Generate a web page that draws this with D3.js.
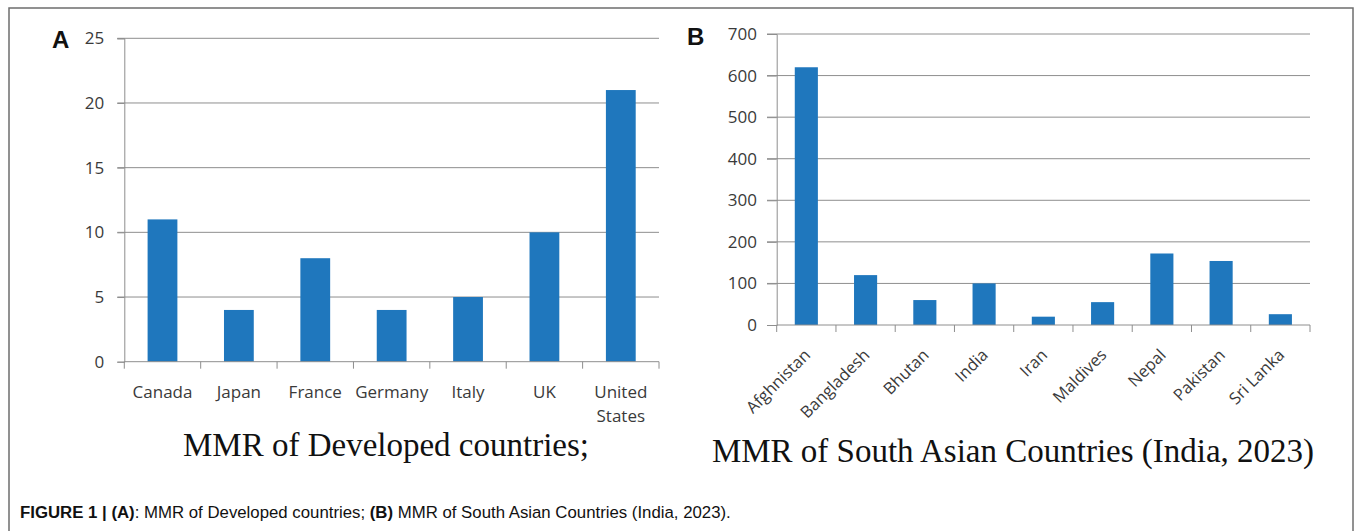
<!DOCTYPE html>
<html>
<head>
<meta charset="utf-8">
<script src="https://cdn.jsdelivr.net/npm/d3@7/dist/d3.min.js"></script>
<style>
  html, body { margin: 0; padding: 0; background: #fff; }
  svg { display: block; }
</style>
</head>
<body>
<svg id="fig" width="1355" height="531"></svg>
<script>
// Panel A: maternal mortality ratio, developed countries
const devCountries = ["Canada", "Japan", "France", "Germany", "Italy", "UK", "United States"];
const devMMR = [11, 4, 8, 4, 5, 10, 21];
const devTicks = [0, 5, 10, 15, 20, 25];

// Panel B: maternal mortality ratio, South Asian countries
const saCountries = ["Afghnistan", "Bangladesh", "Bhutan", "India", "Iran", "Maldives", "Nepal", "Pakistan", "Sri Lanka"];
const saMMR = [620, 120, 60, 100, 20, 55, 172, 154, 26];
const saTicks = [0, 100, 200, 300, 400, 500, 600, 700];

const titleA = "MMR of Developed countries;";
const titleB = "MMR of South Asian Countries (India, 2023)";

const BAR = "#1f77bd";
const GRID = "#8e8e8e";
const LABEL = "#3a3a3a";
const SANS = "'Open Sans', Lato, sans-serif";

const svg = d3.select("#fig");

// outer frame of the figure
svg.append("rect")
  .attr("x", 9).attr("y", 8).attr("width", 1344).attr("height", 560)
  .attr("fill", "none").attr("stroke", "#6e6e6e").attr("stroke-width", 1.5);

function panel(cfg) {
  const g = svg.append("g");
  const x = d3.scaleBand().domain(cfg.cats).range([cfg.x0, cfg.x1])
    .paddingInner(0.61).paddingOuter(0.305);
  const y = d3.scaleLinear().domain([0, cfg.ymax]).range([cfg.yb, cfg.yt]);

  // horizontal gridlines with the left tick stubs
  g.append("g").selectAll("line").data(cfg.ticks.filter(t => t > 0)).join("line")
    .attr("x1", cfg.x0 - cfg.stub).attr("x2", cfg.x1)
    .attr("y1", d => y(d)).attr("y2", d => y(d))
    .attr("stroke", GRID).attr("stroke-width", 1);

  // value axis
  const yAxis = g.append("g").attr("transform", `translate(${cfg.x0},0)`)
    .call(d3.axisLeft(y).tickValues(cfg.ticks).tickSize(cfg.stub).tickPadding(cfg.gap));
  yAxis.select(".domain").attr("stroke", GRID);
  yAxis.selectAll(".tick line").attr("stroke", GRID);
  yAxis.selectAll(".tick text").attr("fill", LABEL)
    .style("font-family", SANS).style("font-size", cfg.tickFont + "px");

  // bars
  g.append("g").selectAll("rect").data(cfg.vals).join("rect")
    .attr("x", (d, i) => x(cfg.cats[i]))
    .attr("width", x.bandwidth())
    .attr("y", d => y(d))
    .attr("height", d => y(0) - y(d))
    .attr("fill", BAR);

  // category axis line and boundary ticks
  const step = x.step();
  g.append("line").attr("x1", cfg.x0).attr("x2", cfg.x1)
    .attr("y1", cfg.yb).attr("y2", cfg.yb).attr("stroke", GRID);
  g.append("g").selectAll("line").data(d3.range(cfg.cats.length + 1)).join("line")
    .attr("x1", i => cfg.x0 + i * step).attr("x2", i => cfg.x0 + i * step)
    .attr("y1", cfg.yb).attr("y2", cfg.yb + 7)
    .attr("stroke", GRID);

  // panel letter
  g.append("text").attr("x", cfg.letterX).attr("y", cfg.letterY)
    .text(cfg.letter)
    .style("font-family", "'Liberation Sans', Arial, sans-serif")
    .style("font-weight", "bold").style("font-size", "24px").attr("fill", "#111");

  // chart caption beneath the category labels
  g.append("text").attr("x", cfg.titleX).attr("y", cfg.titleY)
    .attr("text-anchor", "middle")
    .text(cfg.title)
    .style("font-family", "'Liberation Serif', 'Times New Roman', serif")
    .style("font-size", cfg.titleFont + "px").attr("fill", "#111");

  return { g, x, y };
}

// ---- Panel A
const A = panel({
  cats: devCountries, vals: devMMR, ticks: devTicks, ymax: 25,
  x0: 124.3, x1: 659, yt: 38.3, yb: 361.7, stub: 7, gap: 13, tickFont: 17,
  letter: "A", letterX: 52, letterY: 47.5,
  title: titleA, titleX: 386, titleY: 456, titleFont: 33
});
A.g.append("g").selectAll("text").data(devCountries).join("text")
  .attr("text-anchor", "middle")
  .attr("transform", d => `translate(${A.x(d) + A.x.bandwidth() / 2},398)`)
  .style("font-family", SANS).style("font-size", "17px").attr("fill", LABEL)
  .each(function (d) {
    const words = d.split(" ");
    d3.select(this).selectAll("tspan").data(words).join("tspan")
      .attr("x", 0).attr("dy", (w, i) => i === 0 ? 0 : 23.7).text(w => w);
  });

// ---- Panel B
const B = panel({
  cats: saCountries, vals: saMMR, ticks: saTicks, ymax: 700,
  x0: 776.7, x1: 1310, yt: 34, yb: 325, stub: 9.7, gap: 10, tickFont: 17,
  letter: "B", letterX: 687, letterY: 45,
  title: titleB, titleX: 1013, titleY: 462, titleFont: 33
});
B.g.append("g").selectAll("text").data(saCountries).join("text")
  .attr("text-anchor", "end")
  .attr("transform", d => `translate(${B.x(d) + B.x.bandwidth() / 2 + 5},356) rotate(-45)`)
  .style("font-family", SANS).style("font-size", "16.5px").attr("fill", LABEL)
  .text(d => d);

// ---- Figure caption
const cap = svg.append("text").attr("x", 20).attr("y", 518)
  .style("font-family", "'Liberation Sans', Arial, sans-serif")
  .style("font-size", "16.8px").attr("fill", "#111");
cap.append("tspan").style("font-weight", "bold").text("FIGURE 1 | (A)");
cap.append("tspan").text(": MMR of Developed countries; ");
cap.append("tspan").style("font-weight", "bold").text("(B)");
cap.append("tspan").text(" MMR of South Asian Countries (India, 2023).");
</script>
</body>
</html>
